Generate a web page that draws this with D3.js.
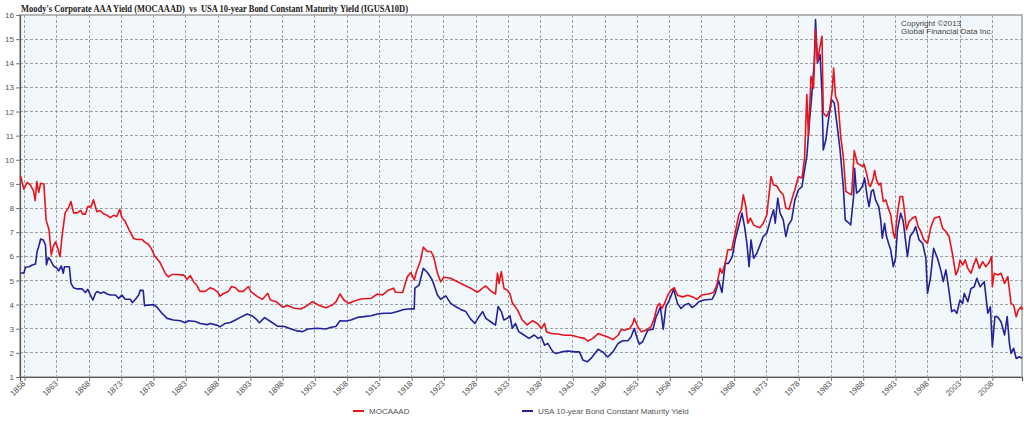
<!DOCTYPE html>
<html>
<head>
<meta charset="utf-8">
<script src="https://cdn.jsdelivr.net/npm/d3@7"></script>
<style>
  body { margin: 0; background: #fff; }
  text { font-family: Arial, "Liberation Sans", sans-serif; }
</style>
</head>
<body>
<svg id="chart" width="1024" height="428"></svg>
<script>
// tick labels
const tickYears = [1858, 1863, 1868, 1873, 1878, 1883, 1888, 1893, 1898, 1903, 1908,
    1913, 1918, 1923, 1928, 1933, 1938, 1943, 1948, 1953, 1958, 1963, 1968, 1973,
    1978, 1983, 1988, 1993, 1998, 2003, 2008];
const yTicks = [1, 2, 3, 4, 5, 6, 7, 8, 9, 10, 11, 12, 13, 14, 15, 16];

// [year, yield %]
const mocaaad = [
    [1857.38, 9.34], [1857.9, 8.78], [1858.4, 9.06], [1858.9, 8.96], [1859.4, 8.7], [1859.65, 8.31],
    [1859.9, 9.1], [1860.2, 8.65], [1860.5, 9.03], [1861.0, 9.0], [1861.35, 7.5], [1861.8, 7.1],
    [1862.15, 6.06], [1862.45, 6.4], [1862.8, 6.6], [1863.2, 6.3], [1863.5, 5.99], [1863.8, 6.8],
    [1864.3, 7.81], [1864.8, 8.0], [1865.2, 8.27], [1865.6, 7.8], [1866.2, 7.8], [1866.7, 7.9],
    [1867.0, 7.75], [1867.45, 7.75], [1867.8, 8.06], [1868.3, 8.05], [1868.7, 8.34], [1869.2, 7.85],
    [1869.7, 7.9], [1870.3, 7.75], [1870.8, 7.7], [1871.3, 7.6], [1871.8, 7.7], [1872.3, 7.65],
    [1872.75, 7.95], [1873.1, 7.6], [1873.6, 7.45], [1874.2, 7.1], [1874.9, 6.74], [1875.5, 6.7],
    [1876.2, 6.7], [1876.6, 6.6], [1877.2, 6.5], [1877.7, 6.3], [1878.2, 6.0], [1879.0, 5.75],
    [1879.8, 5.3], [1880.3, 5.15], [1880.9, 5.25], [1881.6, 5.25], [1882.7, 5.22], [1883.2, 5.05],
    [1883.7, 5.2], [1884.2, 4.95], [1884.7, 4.8], [1885.2, 4.55], [1886.0, 4.55], [1886.8, 4.7],
    [1887.3, 4.65], [1888.0, 4.5], [1888.3, 4.35], [1888.8, 4.45], [1889.6, 4.55], [1890.1, 4.75],
    [1890.7, 4.7], [1891.2, 4.55], [1891.9, 4.55], [1892.7, 4.75], [1893.1, 4.54], [1894.1, 4.33],
    [1894.9, 4.22], [1895.7, 4.47], [1896.1, 4.19], [1897.0, 4.12], [1898.0, 3.89], [1898.8, 3.96],
    [1899.8, 3.85], [1900.8, 3.82], [1901.6, 3.92], [1902.6, 4.12], [1903.7, 3.96], [1904.7, 3.87],
    [1905.7, 3.98], [1906.3, 4.12], [1906.9, 4.44], [1907.5, 4.19], [1908.2, 4.05], [1909.1, 4.15],
    [1910.1, 4.23], [1911.7, 4.26], [1912.7, 4.44], [1913.5, 4.4], [1914.3, 4.58], [1915.2, 4.68],
    [1915.5, 4.51], [1916.6, 4.5], [1917.35, 5.16], [1917.9, 5.33], [1918.4, 5.02], [1918.75, 5.37],
    [1919.4, 5.85], [1919.8, 6.38], [1920.45, 6.2], [1921.0, 6.2], [1921.4, 5.99], [1922.0, 5.3],
    [1922.5, 4.95], [1923.0, 5.13], [1924.05, 5.09], [1925.1, 4.95], [1926.1, 4.81], [1927.15, 4.68],
    [1928.2, 4.51], [1929.0, 4.68], [1929.5, 4.77], [1930.25, 4.57], [1931.0, 4.44], [1931.3, 5.3],
    [1931.55, 4.88], [1931.9, 5.37], [1932.3, 4.68], [1932.8, 4.6], [1933.25, 4.44], [1933.6, 4.08],
    [1934.4, 3.78], [1935.15, 3.36], [1935.9, 3.16], [1936.7, 3.33], [1937.5, 3.22], [1938.1, 3.01],
    [1938.6, 3.22], [1938.9, 2.87], [1939.65, 2.8], [1940.7, 2.78], [1941.7, 2.73], [1942.75, 2.73],
    [1943.8, 2.66], [1944.8, 2.6], [1945.3, 2.49], [1946.1, 2.6], [1946.9, 2.8], [1947.6, 2.73],
    [1948.4, 2.66], [1949.2, 2.55], [1950.0, 2.73], [1950.5, 2.97], [1951.0, 2.94], [1951.8, 3.01],
    [1952.3, 3.22], [1952.5, 3.43], [1953.05, 3.08], [1953.6, 2.87], [1954.3, 2.94], [1955.1, 3.08],
    [1955.6, 3.43], [1956.05, 3.91], [1956.4, 4.05], [1956.8, 3.84], [1957.2, 4.05], [1957.7, 4.39],
    [1958.2, 4.6], [1958.7, 4.7], [1959.2, 4.39], [1960.0, 4.32], [1960.8, 4.39], [1961.7, 4.3],
    [1962.2, 4.22], [1963.0, 4.4], [1964.0, 4.44], [1964.8, 4.5], [1965.3, 4.81], [1965.8, 5.5],
    [1966.1, 5.3], [1966.6, 5.71], [1967.0, 6.27], [1967.6, 6.27], [1968.2, 7.03], [1968.7, 7.72],
    [1969.1, 7.93], [1969.4, 8.55], [1969.8, 8.06], [1970.1, 7.37], [1970.5, 7.58], [1971.0, 7.3],
    [1971.5, 7.23], [1972.0, 7.19], [1972.5, 7.37], [1973.05, 7.72], [1973.7, 9.31], [1974.1, 8.96],
    [1974.6, 8.92], [1975.1, 8.69], [1975.6, 8.55], [1976.0, 8.0], [1976.5, 7.95], [1976.9, 8.34],
    [1977.4, 8.76], [1977.95, 9.31], [1978.5, 9.24], [1978.9, 10.07], [1979.25, 12.7], [1979.5, 10.97],
    [1979.9, 13.46], [1980.3, 12.97], [1980.6, 15.4], [1980.9, 14.08], [1981.3, 14.7], [1981.6, 15.12],
    [1981.8, 11.94], [1982.3, 11.8], [1982.8, 12.07], [1983.2, 12.9], [1983.4, 13.8], [1983.7, 12.63],
    [1984.1, 12.35], [1984.5, 10.97], [1984.9, 10.14], [1985.3, 8.69], [1985.7, 8.62], [1986.2, 8.55],
    [1986.6, 10.38], [1987.07, 9.86], [1987.5, 9.79], [1987.85, 9.72], [1988.1, 9.83], [1988.5, 9.45],
    [1988.9, 8.96], [1989.1, 8.89], [1989.55, 9.24], [1989.75, 9.56], [1990.05, 9.17], [1990.4, 8.96],
    [1990.7, 9.03], [1991.1, 8.27], [1991.5, 8.34], [1991.8, 8.06], [1992.25, 7.72], [1992.65, 6.96],
    [1992.9, 6.75], [1993.3, 7.79], [1993.7, 8.48], [1994.1, 8.48], [1994.3, 8.06], [1994.7, 7.1],
    [1995.1, 7.44], [1995.6, 7.58], [1996.1, 7.65], [1996.5, 7.23], [1996.9, 7.03], [1997.4, 6.68],
    [1997.95, 6.54], [1998.5, 7.23], [1999.0, 7.58], [1999.8, 7.65], [2000.3, 7.16], [2000.8, 7.03],
    [2001.3, 6.82], [2001.8, 6.13], [2002.35, 5.23], [2002.7, 5.44], [2003.0, 5.85], [2003.4, 5.64],
    [2003.8, 5.85], [2004.2, 5.5], [2004.7, 5.3], [2005.2, 5.71], [2005.5, 5.92], [2006.0, 5.5],
    [2006.5, 5.78], [2007.0, 5.57], [2007.5, 5.74], [2007.9, 5.99], [2008.0, 4.74], [2008.3, 5.3],
    [2008.8, 5.23], [2009.35, 5.3], [2009.9, 4.88], [2010.4, 5.16], [2010.9, 4.05], [2011.3, 3.98],
    [2011.7, 3.5], [2012.05, 3.78], [2012.5, 3.91], [2012.6, 3.78]
];

const igusa10d = [
    [1857.38, 5.32], [1857.9, 5.3], [1858.15, 5.55], [1858.7, 5.57], [1859.2, 5.64], [1859.7, 5.68],
    [1859.95, 6.2], [1860.2, 6.4], [1860.5, 6.72], [1860.9, 6.68], [1861.25, 6.47], [1861.4, 5.65],
    [1861.7, 5.95], [1862.0, 5.85], [1862.5, 5.6], [1863.05, 5.5], [1863.3, 5.4], [1863.7, 5.6],
    [1864.0, 5.3], [1864.2, 5.57], [1864.95, 5.57], [1865.2, 4.88], [1865.6, 4.7], [1866.15, 4.65],
    [1866.9, 4.65], [1867.45, 4.5], [1867.8, 4.63], [1868.2, 4.4], [1868.6, 4.19], [1869.0, 4.47],
    [1869.25, 4.54], [1869.8, 4.47], [1870.3, 4.52], [1870.8, 4.44], [1871.3, 4.4], [1872.1, 4.4],
    [1872.6, 4.26], [1873.1, 4.4], [1873.6, 4.22], [1874.4, 4.22], [1874.7, 4.08], [1875.2, 4.22],
    [1875.7, 4.4], [1875.95, 4.6], [1876.4, 4.58], [1876.6, 3.95], [1877.2, 3.98], [1878.0, 4.0],
    [1878.5, 3.9], [1879.3, 3.64], [1880.1, 3.43], [1881.1, 3.36], [1882.15, 3.33], [1882.9, 3.25],
    [1883.4, 3.33], [1884.5, 3.3], [1885.25, 3.22], [1886.3, 3.17], [1886.8, 3.22], [1887.8, 3.15],
    [1888.3, 3.08], [1889.1, 3.22], [1889.9, 3.26], [1890.7, 3.36], [1891.45, 3.47], [1892.5, 3.61],
    [1893.25, 3.54], [1893.9, 3.4], [1894.4, 3.25], [1895.2, 3.46], [1896.2, 3.29], [1897.2, 3.11],
    [1898.3, 3.09], [1899.3, 2.99], [1900.3, 2.91], [1901.1, 2.88], [1901.9, 2.99], [1903.4, 3.02],
    [1904.7, 2.99], [1905.5, 3.06], [1906.25, 3.09], [1906.9, 3.33], [1907.8, 3.32], [1908.6, 3.36],
    [1909.6, 3.47], [1910.6, 3.5], [1911.7, 3.54], [1912.7, 3.61], [1913.7, 3.64], [1914.8, 3.64],
    [1915.8, 3.71], [1916.8, 3.8], [1917.9, 3.83], [1918.4, 3.82], [1918.5, 4.68], [1919.15, 4.81],
    [1919.8, 5.5], [1920.45, 5.33], [1921.2, 5.02], [1922.0, 4.4], [1922.5, 4.22], [1923.3, 4.36],
    [1924.05, 4.05], [1924.8, 3.92], [1925.6, 3.8], [1926.4, 3.71], [1927.15, 3.4], [1927.8, 3.22],
    [1928.45, 3.5], [1929.0, 3.71], [1929.5, 3.43], [1930.25, 3.29], [1931.0, 3.15], [1931.4, 3.92],
    [1931.9, 3.71], [1932.3, 3.36], [1932.8, 3.43], [1933.25, 3.53], [1933.6, 3.02], [1934.1, 3.22],
    [1934.6, 2.88], [1935.4, 2.74], [1936.2, 2.6], [1937.0, 2.74], [1937.6, 2.6], [1938.1, 2.66],
    [1938.6, 2.32], [1939.1, 2.39], [1939.9, 2.04], [1940.4, 1.97], [1941.2, 2.04], [1942.2, 2.08],
    [1943.3, 2.04], [1944.0, 2.04], [1944.55, 1.7], [1945.2, 1.63], [1945.8, 1.77], [1946.9, 2.15],
    [1947.6, 2.04], [1948.4, 1.83], [1949.2, 2.04], [1950.0, 2.39], [1950.7, 2.5], [1951.5, 2.5],
    [1952.0, 2.66], [1952.5, 3.01], [1953.05, 2.53], [1953.3, 2.36], [1953.8, 2.46], [1954.6, 2.94],
    [1955.4, 2.98], [1955.9, 3.5], [1956.15, 3.63], [1956.55, 3.91], [1957.0, 2.98], [1957.4, 3.91],
    [1957.95, 4.19], [1958.6, 4.63], [1959.2, 4.05], [1959.75, 3.84], [1960.3, 3.98], [1960.94, 4.05],
    [1961.45, 3.88], [1962.0, 3.98], [1962.5, 4.12], [1963.3, 4.19], [1964.55, 4.22], [1965.05, 4.47],
    [1965.6, 4.99], [1966.1, 4.5], [1966.6, 5.71], [1967.1, 5.71], [1967.7, 5.99], [1968.15, 6.68],
    [1968.8, 7.37], [1969.2, 7.79], [1969.6, 7.23], [1969.96, 6.54], [1970.3, 5.57], [1970.6, 6.68],
    [1971.0, 5.92], [1971.5, 6.13], [1972.0, 6.47], [1972.5, 6.82], [1973.05, 6.96], [1973.6, 7.51],
    [1974.1, 7.93], [1974.35, 7.37], [1974.75, 8.41], [1975.1, 7.79], [1975.6, 7.51], [1976.0, 6.82],
    [1976.4, 7.3], [1976.9, 7.51], [1977.4, 8.34], [1977.95, 8.76], [1978.5, 8.89], [1978.9, 9.58],
    [1979.25, 10.14], [1979.6, 11.38], [1980.0, 12.63], [1980.4, 14.01], [1980.6, 15.81], [1980.9, 14.01],
    [1981.3, 14.36], [1981.6, 12.77], [1981.8, 10.41], [1982.2, 10.83], [1982.6, 11.66], [1983.1, 12.49],
    [1983.5, 12.35], [1983.9, 11.52], [1984.4, 10.41], [1984.9, 8.89], [1985.2, 7.51], [1985.7, 7.4],
    [1986.05, 7.3], [1986.5, 8.48], [1986.65, 9.65], [1986.96, 8.62], [1987.3, 8.69], [1987.85, 8.89],
    [1988.2, 9.24], [1988.6, 8.48], [1988.9, 8.06], [1989.25, 8.69], [1989.55, 8.76], [1989.9, 8.34],
    [1990.4, 8.06], [1990.7, 7.51], [1990.95, 6.75], [1991.3, 7.37], [1991.6, 6.82], [1992.0, 6.47],
    [1992.25, 6.27], [1992.65, 5.57], [1993.0, 5.92], [1993.3, 7.1], [1993.8, 7.79], [1994.2, 7.44],
    [1994.6, 6.54], [1994.85, 5.99], [1995.25, 6.82], [1995.8, 7.03], [1996.1, 7.23], [1996.65, 6.68],
    [1997.2, 6.54], [1997.7, 5.92], [1997.95, 4.47], [1998.4, 5.09], [1998.9, 6.33], [1999.5, 5.92],
    [2000.0, 5.44], [2000.4, 4.95], [2000.8, 5.44], [2001.2, 4.74], [2001.7, 3.71], [2002.1, 3.78],
    [2002.5, 3.64], [2003.0, 4.19], [2003.4, 4.05], [2003.65, 4.47], [2004.2, 4.12], [2004.7, 4.67],
    [2005.2, 4.74], [2005.6, 5.09], [2006.1, 4.74], [2006.75, 4.95], [2007.3, 3.64], [2007.7, 3.91],
    [2008.0, 2.25], [2008.4, 3.5], [2008.8, 3.5], [2009.35, 3.29], [2009.9, 2.74], [2010.3, 3.5],
    [2010.65, 2.39], [2010.9, 1.98], [2011.3, 2.19], [2011.7, 1.77], [2012.2, 1.84], [2012.6, 1.77]
];

const svg = d3.select("#chart");

const plotLeft = 20, plotRight = 1022, plotTop = 15, plotBottom = 377;

const x = d3.scaleLinear().domain([1857.3, 2012.6]).range([plotLeft, plotRight]);
const y = d3.scaleLinear().domain([1, 16]).range([plotBottom, plotTop]);

// plot background
svg.append("rect")
    .attr("x", plotLeft).attr("y", plotTop)
    .attr("width", plotRight - plotLeft).attr("height", plotBottom - plotTop)
    .attr("fill", "#f2f7fc");

// grid
const grid = svg.append("g").attr("class", "grid");
grid.selectAll("line.h")
    .data(yTicks.slice(1, -1))
    .join("line")
        .attr("class", "h")
        .attr("x1", plotLeft).attr("x2", plotRight)
        .attr("y1", d => y(d)).attr("y2", d => y(d));
grid.selectAll("line.v")
    .data(tickYears)
    .join("line")
        .attr("class", "v")
        .attr("x1", d => x(d)).attr("x2", d => x(d))
        .attr("y1", plotTop).attr("y2", plotBottom);
grid.selectAll("line")
    .attr("stroke", "#8a8a8a")
    .attr("stroke-width", 0.8)
    .attr("stroke-dasharray", "3,2")
    .attr("shape-rendering", "crispEdges");

// frame
svg.append("rect")
    .attr("x", plotLeft).attr("y", plotTop)
    .attr("width", plotRight - plotLeft).attr("height", plotBottom - plotTop)
    .attr("fill", "none")
    .attr("stroke", "#a0a0a0")
    .attr("stroke-width", 1.5);

// y axis
const yAxis = svg.append("g")
    .attr("transform", `translate(${plotLeft},0)`)
    .call(d3.axisLeft(y).tickValues(yTicks).tickSize(4).tickFormat(d3.format("d")));
yAxis.select(".domain").attr("stroke", "#555").attr("stroke-width", 1.2);
yAxis.selectAll(".tick line").attr("stroke", "#777");
yAxis.selectAll(".tick text")
    .attr("x", -6)
    .attr("fill", "#555")
    .style("font-size", "8px")
    .style("font-family", "Arial, 'Liberation Sans', sans-serif");

// x axis
const xAxis = svg.append("g")
    .attr("transform", `translate(0,${plotBottom})`)
    .call(d3.axisBottom(x).tickValues(tickYears).tickSize(4).tickFormat(d3.format("d")));
xAxis.select(".domain").attr("stroke", "#555").attr("stroke-width", 1.2);
xAxis.selectAll(".tick line").attr("stroke", "#777");
xAxis.selectAll(".tick text")
    .attr("fill", "#555")
    .attr("text-anchor", "end")
    .attr("dy", null)
    .attr("y", 0)
    .attr("transform", "translate(1,7) rotate(-45)")
    .style("font-size", "8px")
    .style("font-family", "Arial, 'Liberation Sans', sans-serif");

// series
const line = d3.line()
    .x(d => x(d[0]))
    .y(d => y(d[1]));

svg.append("path")
    .datum(igusa10d)
    .attr("fill", "none")
    .attr("stroke", "#22229a")
    .attr("stroke-width", 1.6)
    .attr("stroke-linejoin", "round")
    .attr("d", line);

svg.append("path")
    .datum(mocaaad)
    .attr("fill", "none")
    .attr("stroke", "#e8141c")
    .attr("stroke-width", 1.6)
    .attr("stroke-linejoin", "round")
    .attr("d", line);

// title (double spaces around "vs" kept)
svg.append("text")
    .attr("x", 21).attr("y", 12)
    .attr("textLength", 387)
    .attr("lengthAdjust", "spacingAndGlyphs")
    .style("white-space", "pre")
    .style("font-family", "'Liberation Serif', 'Times New Roman', serif")
    .style("font-weight", "bold")
    .style("font-size", "10px")
    .attr("fill", "#222")
    .text("Moody's Corporate AAA Yield (MOCAAAD)  vs  USA 10-year Bond Constant Maturity Yield (IGUSA10D)");

// copyright
const copy = svg.append("text")
    .attr("x", 901).attr("y", 26)
    .attr("fill", "#444")
    .style("font-size", "8px");
copy.append("tspan").attr("x", 901).text("Copyright \u00a92013");
copy.append("tspan").attr("x", 901).attr("dy", 8).text("Global Financial Data Inc.");

// legend
const legend = [
    { name: "MOCAAAD", color: "#e8141c", x: 353 },
    { name: "USA 10-year Bond Constant Maturity Yield", color: "#22229a", x: 522 }
];
const lg = svg.selectAll("g.legend")
    .data(legend)
    .join("g")
        .attr("class", "legend")
        .attr("transform", d => `translate(${d.x},411)`);
lg.append("line")
    .attr("x1", 0).attr("x2", 11)
    .attr("stroke", d => d.color)
    .attr("stroke-width", 2);
lg.append("text")
    .attr("x", 16).attr("y", 3)
    .attr("fill", "#555")
    .style("font-size", "8px")
    .text(d => d.name);
</script>
</body>
</html>
